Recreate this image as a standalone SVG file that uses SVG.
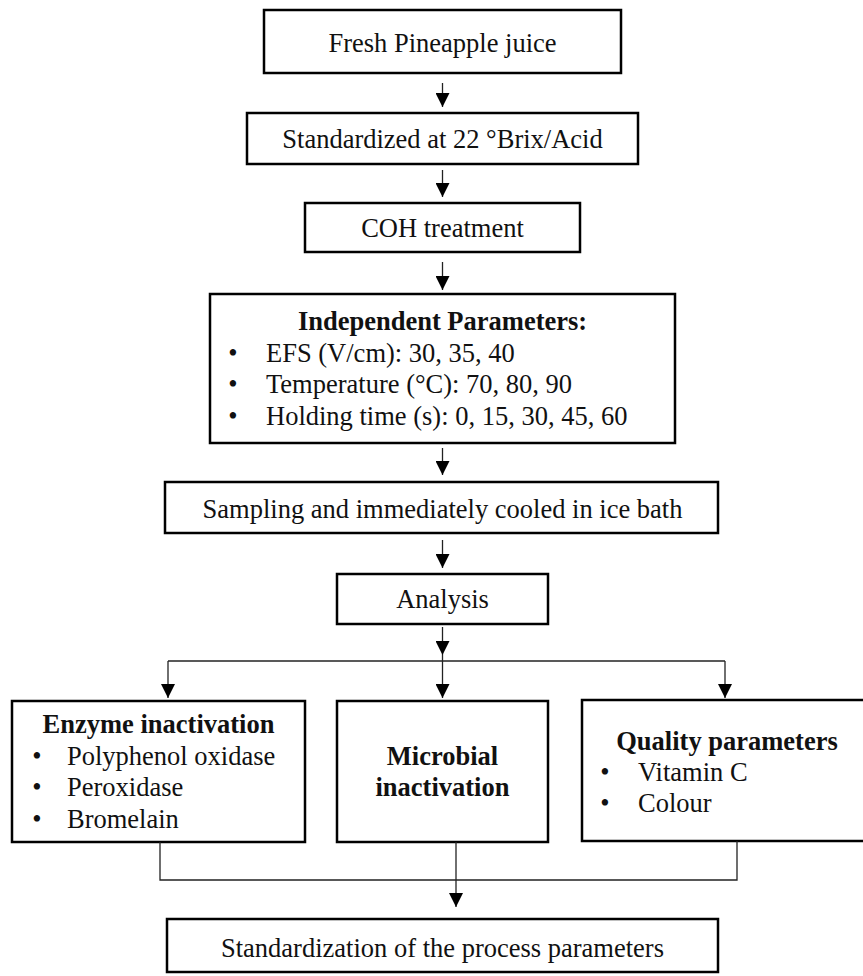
<svg xmlns="http://www.w3.org/2000/svg" width="863" height="976" viewBox="0 0 863 976">
<defs>
<style>
.box{fill:#fff;stroke:#000;stroke-width:2.5}
.t{font-family:"Liberation Serif","Times New Roman",serif;font-size:26.5px;fill:#111}
.c{text-anchor:middle}
.b{font-weight:bold}
.ln{fill:none;stroke:#222;stroke-width:1.3}
</style>
<marker id="ah" viewBox="0 0 14 14" refX="14" refY="7" markerWidth="14" markerHeight="14" markerUnits="userSpaceOnUse" orient="auto">
<path d="M0,0 L14,7 L0,14 Z" fill="#000"/>
</marker>
</defs>
<rect width="863" height="976" fill="#fff"/>

<g id="n1"><rect class="box" x="264" y="10" width="357" height="63"/><text class="t c" x="442.5" y="52">Fresh Pineapple juice</text></g>
<g id="n2"><rect class="box" x="247" y="113" width="391" height="51"/><text class="t c" x="442.5" y="148">Standardized at 22 °Brix/Acid</text></g>
<g id="n3"><rect class="box" x="305" y="203" width="275" height="49"/><text class="t c" x="442.5" y="237">COH treatment</text></g>
<g id="n4"><rect class="box" x="210" y="294" width="465" height="149"/>
<text class="t c b" x="442.5" y="330">Independent Parameters:</text>
<text class="t c" x="233" y="361.5">•</text><text class="t" x="266" y="361.5">EFS (V/cm): 30, 35, 40</text>
<text class="t c" x="233" y="393">•</text><text class="t" x="266" y="393">Temperature (°C): 70, 80, 90</text>
<text class="t c" x="233" y="424.5">•</text><text class="t" x="266" y="424.5">Holding time (s): 0, 15, 30, 45, 60</text>
</g>
<g id="n5"><rect class="box" x="165" y="482" width="553" height="51"/><text class="t c" x="442.5" y="518">Sampling and immediately cooled in ice bath</text></g>
<g id="n6"><rect class="box" x="337" y="574" width="211" height="50"/><text class="t c" x="442.5" y="608">Analysis</text></g>
<g id="n7"><rect class="box" x="12" y="701" width="293" height="141"/>
<text class="t c b" x="158.5" y="733">Enzyme inactivation</text>
<text class="t c" x="37" y="764.5">•</text><text class="t" x="67" y="764.5">Polyphenol oxidase</text>
<text class="t c" x="37" y="796">•</text><text class="t" x="67" y="796">Peroxidase</text>
<text class="t c" x="37" y="827.5">•</text><text class="t" x="67" y="827.5">Bromelain</text>
</g>
<g id="n8"><rect class="box" x="337" y="701" width="211" height="141"/>
<text class="t c b" x="442.5" y="765">Microbial</text>
<text class="t c b" x="442.5" y="796">inactivation</text>
</g>
<g id="n9"><rect class="box" x="582" y="700" width="294" height="141"/>
<text class="t c b" x="727" y="750">Quality parameters</text>
<text class="t c" x="605" y="781">•</text><text class="t" x="638" y="781">Vitamin C</text>
<text class="t c" x="605" y="812">•</text><text class="t" x="638" y="812">Colour</text>
</g>
<g id="n10"><rect class="box" x="167" y="919" width="551" height="53"/><text class="t c" x="442.5" y="957">Standardization of the process parameters</text></g>

<g id="connectors">
<line class="ln" x1="442.5" y1="83" x2="442.5" y2="107" marker-end="url(#ah)"/>
<line class="ln" x1="442.5" y1="170" x2="442.5" y2="197" marker-end="url(#ah)"/>
<line class="ln" x1="442.5" y1="262" x2="442.5" y2="290" marker-end="url(#ah)"/>
<line class="ln" x1="442.5" y1="448" x2="442.5" y2="475" marker-end="url(#ah)"/>
<line class="ln" x1="442.5" y1="540" x2="442.5" y2="568" marker-end="url(#ah)"/>
<line class="ln" x1="442.5" y1="627" x2="442.5" y2="655" marker-end="url(#ah)"/>
<line class="ln" x1="442.5" y1="655" x2="442.5" y2="661"/>
<polyline class="ln" points="168,661 725,661"/>
<line class="ln" x1="168" y1="661" x2="168" y2="698" marker-end="url(#ah)"/>
<line class="ln" x1="442.5" y1="661" x2="442.5" y2="698" marker-end="url(#ah)"/>
<line class="ln" x1="725" y1="661" x2="725" y2="698" marker-end="url(#ah)"/>
<polyline class="ln" points="160,842 160,880 737,880 737,841"/>
<line class="ln" x1="456" y1="842" x2="456" y2="907" marker-end="url(#ah)"/>
</g>
</svg>
